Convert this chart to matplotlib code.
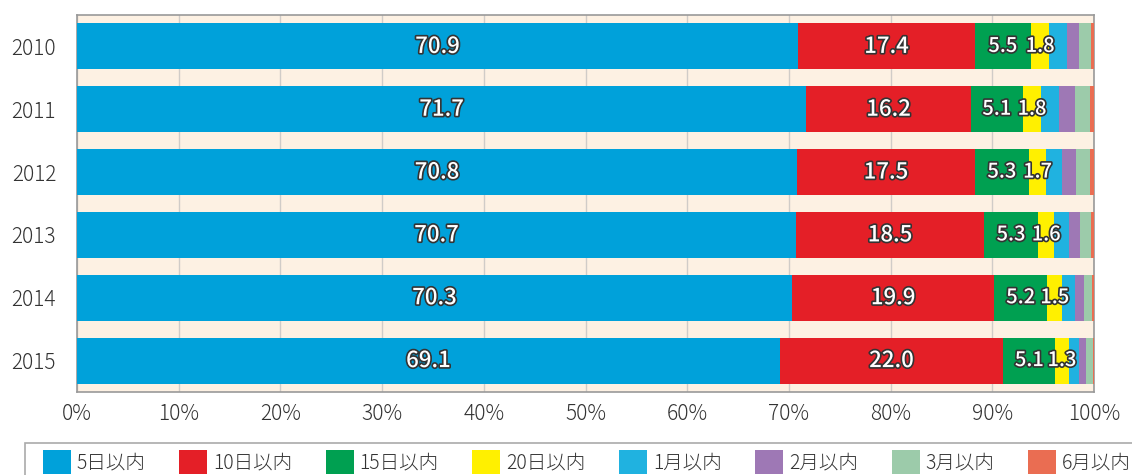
import matplotlib
matplotlib.use("Agg")
import matplotlib.pyplot as plt
import matplotlib.patheffects as pe
from matplotlib.patches import Patch, Rectangle
import numpy as np

plt.rcParams['font.family'] = ['Noto Sans CJK JP', 'DejaVu Sans']

years = ["2010", "2011", "2012", "2013", "2014", "2015"]
series_names = ["5日以内", "10日以内", "15日以内", "20日以内", "1月以内", "2月以内", "3月以内", "6月以内"]
d5 = [70.9, 71.7, 70.8, 70.7, 70.3, 69.1]
d10 = [17.4, 16.2, 17.5, 18.5, 19.9, 22.0]
d15 = [5.5, 5.1, 5.3, 5.3, 5.2, 5.1]
d20 = [1.8, 1.8, 1.7, 1.6, 1.5, 1.3]
m1 = [1.7, 1.8, 1.6, 1.4, 1.2, 1.0]
m2 = [1.2, 1.5, 1.3, 1.1, 0.9, 0.7]
m3 = [1.2, 1.5, 1.4, 1.1, 0.8, 0.7]
m6 = [0.3, 0.4, 0.4, 0.3, 0.2, 0.1]
colors = ["#00A1DA", "#E41F27", "#00A051", "#FFF000", "#20B2E0", "#9E78B5", "#9CCBAA", "#EA6D52"]

series = [d5, d10, d15, d20, m1, m2, m3, m6]
labeled = 4

fig = plt.figure(figsize=(11.32, 4.75), dpi=100)
ax = fig.add_axes([77/1132, 1-392/475, (1094-77)/1132, (392-15)/475])
ax.set_facecolor("#FDF1E3")

ypos = np.arange(len(years))
left = np.zeros(len(years))
for i, (vals, col) in enumerate(zip(series, colors)):
    vals = np.array(vals)
    ax.barh(ypos, vals, left=left, height=0.73, color=col, zorder=3)
    if i < labeled:
        fs = 16 if i < 2 else 14.5
        for y, l, v in zip(ypos, left, vals):
            t = ax.text(l + v/2, y, f"{v:.1f}", ha="center", va="center",
                        color="white", fontsize=fs, fontweight="medium", zorder=5)
            t.set_path_effects([pe.Stroke(linewidth=2.4, foreground="#333333"), pe.Normal()])
    left += vals

ax.set_xlim(0, 100)
ax.set_ylim(len(years)-0.5, -0.5)
ax.set_yticks(ypos)
ax.set_yticklabels(years)
ax.set_xticks(np.arange(0, 101, 10))
ax.set_xticklabels([f"{x}%" for x in range(0, 101, 10)])
ax.tick_params(axis="both", length=0, labelsize=15, labelcolor="#333333")
ax.tick_params(axis="x", pad=8)
ax.tick_params(axis="y", pad=15)
for lab in ax.get_xticklabels() + ax.get_yticklabels():
    lab.set_fontweight("light")
ax.grid(axis="x", color="#D0CCC8", linewidth=1, zorder=1)
for s in ax.spines.values():
    s.set_color("#999999")
    s.set_linewidth(1.2)

# legend frame extending past the figure edge, as in the reference
fig.patches.append(Rectangle((25/1132, -0.05), 1.2, (475-443)/475 + 0.05,
                             transform=fig.transFigure, facecolor="white",
                             edgecolor="#AAAAAA", linewidth=1.2))
handles = [Patch(facecolor=c, edgecolor="none") for c in colors]
leg = fig.legend(handles, series_names, loc="center left",
                 bbox_to_anchor=(33/1132, 1-462/475), ncol=8, frameon=False,
                 prop={"weight": "light", "size": 14},
                 handlelength=1.45, handleheight=1.45, handletextpad=0.3,
                 columnspacing=1.72, borderpad=0.0, labelcolor="#333333")

fig.savefig("out.png", dpi=100)
